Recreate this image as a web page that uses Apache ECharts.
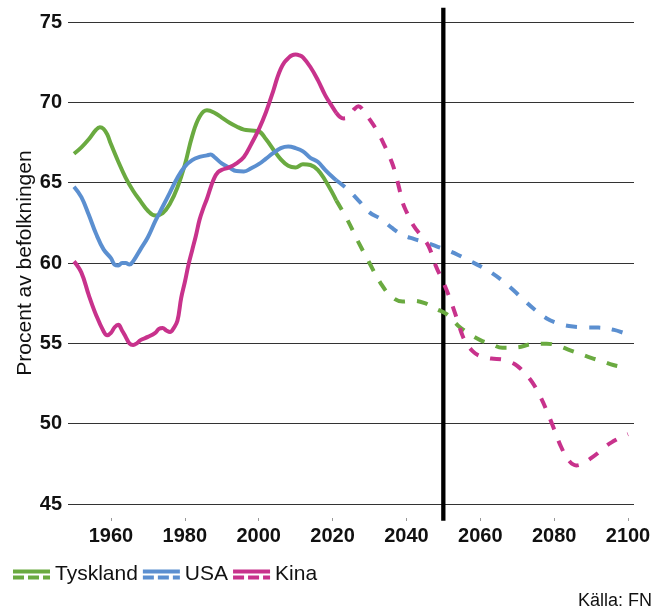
<!DOCTYPE html>
<html>
<head>
<meta charset="utf-8">
<script src="https://cdn.jsdelivr.net/npm/echarts@6/dist/echarts.min.js"></script>
<style>
html,body{margin:0;padding:0;background:#fff;}
#chart{width:670px;height:613px;}
</style>
</head>
<body>
<div id="chart"></div>
<script>
// ---- Data ----
const xTickYears = [1960, 1980, 2000, 2020, 2040, 2060, 2080, 2100];
const yTicks = [45, 50, 55, 60, 65, 70, 75];

const tysklandHistYears = [1950,1952,1954,1956,1957,1958,1959,1960,1962,1964,1966,1968,1970,1972,1974,1976,1978,1980,1982,1984,1986,1988,1990,1992,1994,1996,1998,2000,2002,2004,2006,2008,2010,2012,2014,2016,2018,2020,2021];
const tysklandHistValues = [66.8,67.2,67.7,68.3,68.45,68.35,68.0,67.4,66.3,65.3,64.5,63.85,63.25,62.95,63.1,63.7,64.7,66.1,67.9,69.1,69.5,69.35,69.05,68.75,68.5,68.3,68.25,68.2,67.7,67.05,66.45,66.05,65.95,66.15,66.1,65.8,65.15,64.35,63.9];
const tysklandProjYears = [2021,2024,2027,2030,2033,2036,2039,2042,2045,2048,2051,2054,2057,2060,2063,2066,2070,2074,2078,2081,2084,2087,2090,2093,2096,2100];
const tysklandProjValues = [63.9,62.7,61.3,60.0,58.75,57.9,57.6,57.65,57.5,57.15,56.8,56.1,55.6,55.2,54.95,54.72,54.75,54.95,54.98,54.85,54.6,54.35,54.1,53.88,53.65,53.45];

const usaHistYears = [1950,1952,1954,1956,1958,1960,1961,1962,1963,1964,1965,1966,1968,1970,1972,1974,1976,1978,1980,1982,1984,1986,1987,1988,1990,1992,1994,1996,1998,2000,2002,2004,2006,2008,2010,2012,2014,2016,2018,2020,2021];
const usaHistValues = [64.75,64.1,63.0,61.8,60.85,60.3,59.9,59.85,60.0,60.0,59.9,60.1,60.85,61.6,62.6,63.5,64.4,65.3,66.0,66.4,66.6,66.7,66.75,66.6,66.2,65.95,65.72,65.7,65.9,66.15,66.5,66.85,67.15,67.25,67.15,66.95,66.55,66.3,65.8,65.35,65.15];
const usaProjYears = [2021,2024,2027,2030,2033,2036,2039,2042,2045,2048,2051,2054,2057,2060,2063,2066,2069,2072,2075,2078,2081,2084,2088,2092,2096,2100];
const usaProjValues = [65.15,64.6,63.9,63.15,62.75,62.2,61.75,61.5,61.3,61.05,60.8,60.5,60.15,59.8,59.4,58.9,58.3,57.65,57.05,56.55,56.25,56.08,56.0,55.98,55.85,55.55];

const kinaHistYears = [1950,1952,1954,1956,1958,1959,1960,1961,1962,1963,1964,1965,1966,1967,1968,1970,1972,1973,1974,1975,1976,1977,1978,1979,1980,1981,1982,1983,1984,1985,1986,1987,1988,1989,1990,1992,1994,1996,1998,2000,2002,2004,2005,2006,2007,2008,2009,2010,2011,2012,2014,2016,2018,2020,2021];
const kinaHistValues = [60.1,59.4,58.0,56.75,55.75,55.5,55.65,56.0,56.15,55.8,55.4,55.0,54.9,55.0,55.2,55.4,55.65,55.9,55.95,55.8,55.7,55.95,56.4,57.8,58.8,59.9,60.8,61.7,62.7,63.4,64.0,64.7,65.3,65.65,65.8,65.95,66.2,66.6,67.4,68.3,69.4,70.75,71.5,72.1,72.5,72.75,72.92,72.97,72.93,72.8,72.2,71.4,70.45,69.7,69.35];
const kinaProjYears = [2021,2022,2023,2024,2025,2026,2027,2028,2030,2032,2034,2036,2037,2038,2039,2040,2042,2044,2046,2048,2050,2052,2054,2055,2056,2058,2060,2063,2066,2068,2070,2072,2074,2076,2078,2080,2082,2084,2086,2088,2090,2092,2094,2096,2098,2100];
const kinaProjValues = [69.35,69.1,69.0,69.05,69.3,69.6,69.75,69.6,68.95,68.25,67.35,66.3,65.6,64.7,63.75,63.2,62.3,61.7,61.05,59.8,58.8,57.65,56.3,55.6,55.1,54.5,54.2,54.05,54.0,53.85,53.6,53.15,52.6,51.8,50.8,49.65,48.5,47.7,47.4,47.55,47.85,48.2,48.6,48.9,49.15,49.35];

const markerYear = 2050;
const markerRange = [75.89, 43.96];

// ---- Chart ----
const FONT = "'Liberation Sans', Arial, sans-serif";
const COLORS = { Tyskland: '#6aaa40', USA: '#5b8fd0', Kina: '#c8328c' };
const zip = (xs, ys) => xs.map((x, i) => [x, ys[i]]);
const legendIcon = 'path://M0,0H37V4H0Z M0,6H11V10H0Z M15,6H26V10H15Z M30,6H37V10H30Z';

function lineSeries(name, years, values, dashed) {
  return {
    name: name,
    type: 'line',
    data: zip(years, values),
    smooth: 0.4,
    showSymbol: false,
    symbol: 'none',
    lineStyle: { color: COLORS[name], width: 4, type: dashed ? [11, 12] : 'solid', cap: 'butt' },
    itemStyle: { color: COLORS[name] },
    z: 3
  };
}

const chart = echarts.init(document.getElementById('chart'), null, { renderer: 'canvas' });
chart.setOption({
  animation: false,
  backgroundColor: '#ffffff',
  textStyle: { fontFamily: FONT },
  title: {
    text: 'Källa: FN',
    right: 18,
    top: 592,
    padding: 0,
    textStyle: { fontFamily: FONT, fontSize: 18, fontWeight: 'normal', color: '#111' }
  },
  legend: {
    left: 13,
    top: 564,
    padding: 0,
    itemWidth: 37,
    itemHeight: 10,
    itemGap: 5,
    data: [
      { name: 'Tyskland', icon: legendIcon },
      { name: 'USA', icon: legendIcon },
      { name: 'Kina', icon: legendIcon }
    ],
    textStyle: { fontFamily: FONT, fontSize: 21, color: '#111' }
  },
  grid: { left: 68, right: 36, top: 22, bottom: 109, containLabel: false },
  xAxis: {
    type: 'value',
    min: 1948.375,
    max: 2101.625,
    offset: 14,
    axisLine: { show: false },
    splitLine: { show: false },
    axisTick: { show: true, customValues: xTickYears, length: 3, lineStyle: { color: '#999' } },
    axisLabel: {
      customValues: xTickYears,
      formatter: (v) => String(Math.round(v)),
      fontFamily: FONT, fontSize: 20, fontWeight: 'bold', color: '#111', margin: 8
    }
  },
  yAxis: {
    type: 'value',
    min: 45,
    max: 75,
    interval: 5,
    axisLine: { show: false },
    axisTick: { show: false },
    splitLine: { show: true, lineStyle: { color: '#333', width: 1 } },
    axisLabel: { fontFamily: FONT, fontSize: 20, fontWeight: 'bold', color: '#111', margin: 6 },
    name: 'Procent av befolkningen',
    nameLocation: 'middle',
    nameGap: 32,
    nameMoveOverlap: false,
    nameRotate: 90,
    nameTextStyle: { fontFamily: FONT, fontSize: 21, color: '#111' }
  },
  series: [
    {
      name: 'marker',
      type: 'line',
      data: [[markerYear, markerRange[0]], [markerYear, markerRange[1]]],
      symbol: 'none',
      clip: false,
      silent: true,
      lineStyle: { color: '#000', width: 4.3 },
      z: 2
    },
    lineSeries('Tyskland', tysklandHistYears, tysklandHistValues, false),
    lineSeries('Tyskland', tysklandProjYears, tysklandProjValues, true),
    lineSeries('USA', usaHistYears, usaHistValues, false),
    lineSeries('USA', usaProjYears, usaProjValues, true),
    lineSeries('Kina', kinaHistYears, kinaHistValues, false),
    lineSeries('Kina', kinaProjYears, kinaProjValues, true)
  ]
});
</script>
</body>
</html>
